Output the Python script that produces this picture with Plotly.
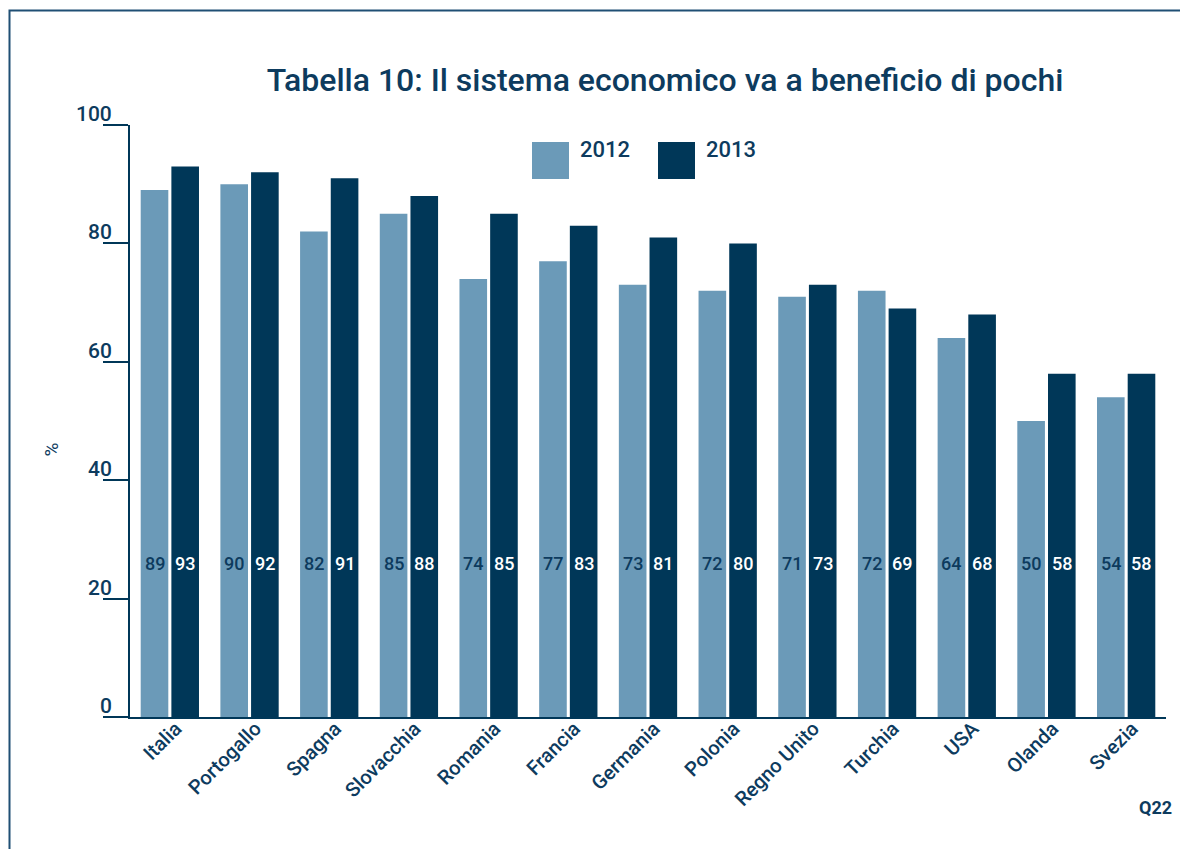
import plotly.graph_objects as go

# Survey results: share agreeing that the economic system benefits the few
countries = ["Italia", "Portogallo", "Spagna", "Slovacchia", "Romania", "Francia",
             "Germania", "Polonia", "Regno Unito", "Turchia", "USA", "Olanda", "Svezia"]
values_2012 = [89, 90, 82, 85, 74, 77, 73, 72, 71, 72, 64, 50, 54]
values_2013 = [93, 92, 91, 88, 85, 83, 81, 80, 73, 69, 68, 58, 58]
y_ticks = [0, 20, 40, 60, 80, 100]

LIGHT = "#6b9ab8"
DARK = "#003758"
TEXT = "#0d3b5e"
FONT = "Roboto"

W, H = 1180, 849
ML, MR, MT, MB = 130, 14, 125, 132
PW, PH = W - ML - MR, H - MT - MB


def px_x(p):
    return (p - ML) / PW


def px_y(p):
    return (H - MB - p) / PH


fig = go.Figure()
fig.add_trace(go.Bar(x=countries, y=values_2012, name="2012", marker_color=LIGHT,
                     marker_line_width=0))
fig.add_trace(go.Bar(x=countries, y=values_2013, name="2013", marker_color=DARK,
                     marker_line_width=0))

annotations = []

# value labels at a fixed height inside each bar
label_y = 26
slot = PW / len(countries) * (1 - 0.23) / 2
for c, v12, v13 in zip(countries, values_2012, values_2013):
    annotations.append(dict(x=c, y=label_y, xref="x", yref="y", text=str(v12),
                            showarrow=False, xshift=-slot / 2,
                            font=dict(family=FONT, size=18, color=TEXT, weight=500)))
    annotations.append(dict(x=c, y=label_y, xref="x", yref="y", text=str(v13),
                            showarrow=False, xshift=slot / 2,
                            font=dict(family=FONT, size=18, color="white", weight=500)))

# y tick labels sitting on top of their tick marks
for t in y_ticks:
    annotations.append(dict(x=px_x(114), y=t, xref="paper", yref="y", text=str(t),
                            showarrow=False, xanchor="right", yanchor="bottom", yshift=-3,
                            font=dict(family=FONT, size=21, color=TEXT, weight=500)))

# legend
legend_items = [("2012", LIGHT, 532), ("2013", DARK, 658)]
shapes = []
for name, col, x0 in legend_items:
    shapes.append(dict(type="rect", xref="paper", yref="paper",
                       x0=px_x(x0), x1=px_x(x0 + 37), y0=px_y(179), y1=px_y(142),
                       fillcolor=col, line_width=0))
    annotations.append(dict(x=px_x(x0 + 46), y=px_y(135), xref="paper", yref="paper",
                            text=name, showarrow=False, xanchor="left", yanchor="top",
                            font=dict(family=FONT, size=22, color=TEXT, weight=500)))

annotations.append(dict(x=px_x(37), y=px_y(450), xref="paper", yref="paper", text="%",
                        showarrow=False, textangle=-90,
                        font=dict(family=FONT, size=19, color=TEXT)))
annotations.append(dict(x=px_x(1174), y=px_y(820), xref="paper", yref="paper", text="Q22",
                        showarrow=False, xanchor="right",
                        font=dict(family=FONT, size=18, color=TEXT, weight=700)))

# outer frame
shapes.append(dict(type="rect", xref="paper", yref="paper",
                   x0=px_x(9.5), x1=px_x(1200), y0=px_y(870), y1=px_y(10.5),
                   line=dict(color="#1f4f74", width=2), fillcolor="rgba(0,0,0,0)",
                   layer="below"))

fig.update_layout(
    width=W, height=H,
    margin=dict(l=ML, r=MR, t=MT, b=MB, pad=0),
    paper_bgcolor="white", plot_bgcolor="white",
    barmode="group", bargap=0.23, bargroupgap=0.1,
    showlegend=False,
    title=dict(text="Tabella 10: Il sistema economico va a beneficio di pochi",
               xref="container", x=665 / W, xanchor="center",
               yref="container", y=1 - 80 / H, yanchor="middle",
               font=dict(family=FONT, size=32, color=TEXT, weight=500)),
    font=dict(family=FONT, color=TEXT),
    annotations=annotations,
    shapes=shapes,
)
fig.update_xaxes(showline=True, linecolor=DARK, linewidth=2, ticks="", tickangle=-45,
                 ticklabelstandoff=-10, ticklabelshift=6,
                 tickfont=dict(family=FONT, size=20, color=TEXT, weight=500),
                 showgrid=False)
fig.update_yaxes(range=[0, 100], tickvals=y_ticks, showticklabels=False, ticks="outside",
                 ticklen=25, tickwidth=2, tickcolor=DARK, showline=True, linecolor=DARK,
                 linewidth=2, showgrid=False, zeroline=False)

fig.write_html("out.html")
